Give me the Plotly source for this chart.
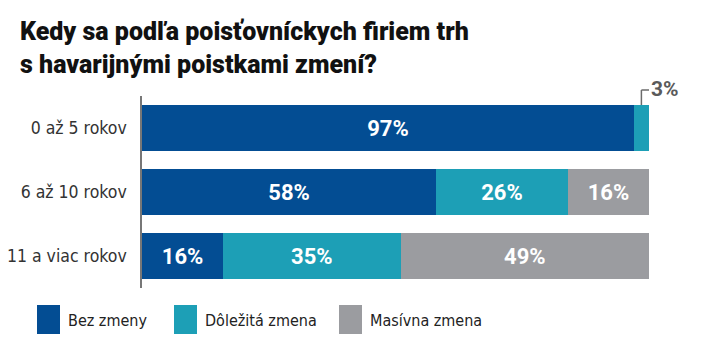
import plotly.graph_objects as go

categories = ["0 až 5 rokov", "6 až 10 rokov", "11 a viac rokov"]
series_names = ["Bez zmeny", "Dôležitá zmena", "Masívna zmena"]
bez_zmeny = [97, 58, 16]
dolezita = [3, 26, 35]
masivna = [0, 16, 49]
colors = ["#034d93", "#1d9fb6", "#9b9ca0"]
title_lines = ["Kedy sa podľa poisťovníckych firiem trh", "s havarijnými poistkami zmení?"]

W, H = 702, 361
OFF = 8  # default page body margin
# target plot area in page pixels: x 142..649, y 96..288
L = 142 - OFF
T = 96 - OFF
R = W - (649 - OFF)
B = H - (288 - OFF)
PW, PH = W - L - R, H - T - B

def px2paper_x(px):
    return (px - OFF - L) / PW

def px2paper_y(py):
    return (H - B - (py - OFF)) / PH

NARROW = "DejaVu Sans Condensed, Roboto"

values = [bez_zmeny, dolezita, masivna]
fig = go.Figure()
for name, vals, col in zip(series_names, values, colors):
    texts = [f"{v}%" if v >= 10 else "" for v in vals]
    fig.add_trace(go.Bar(
        y=categories, x=vals, name=name, orientation="h",
        marker=dict(color=col, line=dict(width=0)),
        text=texts, textposition="inside", insidetextanchor="middle",
        textfont=dict(family="Roboto", size=22, color="white", weight="bold"),
        textangle=0, showlegend=False, hoverinfo="skip",
    ))

# bracket annotation for small value in first bar
small_x = bez_zmeny[0] + dolezita[0] / 2
end_x = bez_zmeny[0] + dolezita[0]
bar_top = px2paper_y(105)
bracket_y = px2paper_y(90)
fig.add_shape(type="line", xref="x", yref="paper", x0=small_x, x1=small_x,
              y0=bar_top, y1=bracket_y, line=dict(color="#6b6b6b", width=1.5))
fig.add_shape(type="line", xref="x", yref="paper", x0=small_x, x1=end_x,
              y0=bracket_y, y1=bracket_y, line=dict(color="#6b6b6b", width=1.5))
fig.add_annotation(x=end_x, xref="x", y=bracket_y, yref="paper",
                   text=f"{dolezita[0]}%", showarrow=False, xanchor="left", yanchor="middle",
                   xshift=0, yshift=1,
                   font=dict(family="Roboto", size=21, color="#5a5a5a", weight="bold"))

# title
fig.add_annotation(x=px2paper_x(18), xref="paper", y=px2paper_y(15), yref="paper",
                   text="<br>".join(title_lines), showarrow=False, xanchor="left", yanchor="top",
                   align="left",
                   font=dict(family="Roboto", size=25, color="#111", weight=900))

# manual legend
leg_sq_x = [37, 174, 339]
for i, (name, col) in enumerate(zip(series_names, colors)):
    x0 = leg_sq_x[i]
    fig.add_shape(type="rect", xref="paper", yref="paper",
                  x0=px2paper_x(x0), x1=px2paper_x(x0 + 23),
                  y0=px2paper_y(334), y1=px2paper_y(305),
                  fillcolor=col, line=dict(width=0))
    fig.add_annotation(x=px2paper_x(x0 + 29), xref="paper", y=px2paper_y(320), yref="paper",
                       text=name, showarrow=False, xanchor="left", yanchor="middle",
                       font=dict(family=NARROW, size=16, color="#222"))

fig.update_layout(
    barmode="stack", bargap=0.28,
    width=W, height=H,
    margin=dict(l=L, r=R, t=T, b=B, autoexpand=False),
    plot_bgcolor="white", paper_bgcolor="white",
    xaxis=dict(range=[0, 100], visible=False, fixedrange=True, automargin=False),
    yaxis=dict(autorange="reversed", showline=True, linecolor="#777", linewidth=1.5,
               ticks="", showgrid=False, ticksuffix="  ", automargin=False,
               tickfont=dict(family=NARROW, size=17.5, color="#333")),
    showlegend=False,
)

fig.write_html("out.html")
